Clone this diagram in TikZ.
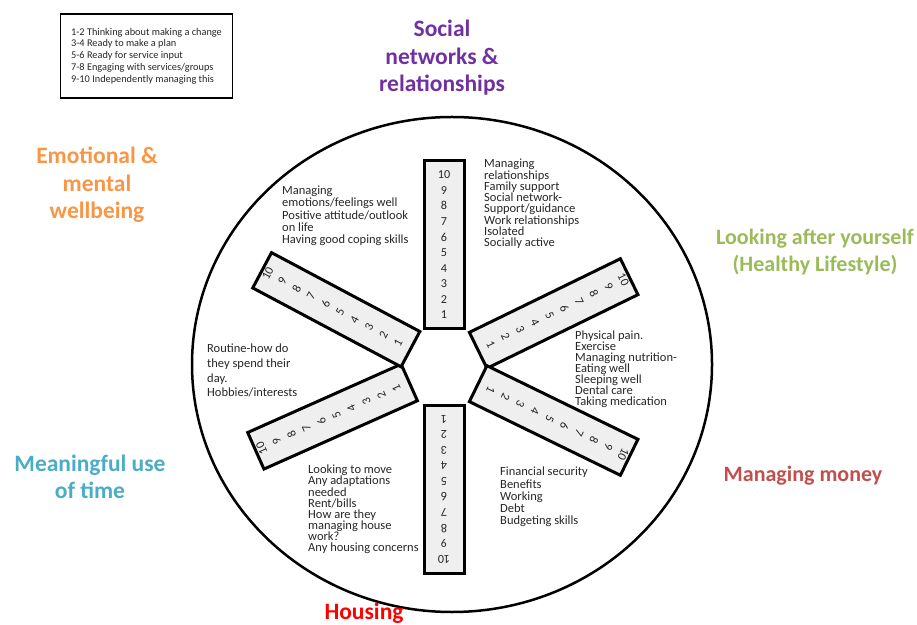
\documentclass[tikz,border=0pt]{standalone}
\usepackage{fontspec}
\setmainfont{Carlito}
\usetikzlibrary{calc,shapes.geometric}
\definecolor{cpurple}{HTML}{7030A0}
\definecolor{corange}{HTML}{F79646}
\definecolor{cgreen}{HTML}{9BBB59}
\definecolor{cmoney}{HTML}{C0504D}
\definecolor{cteal}{HTML}{4BACC6}
\definecolor{chousing}{HTML}{FF0000}
\definecolor{bodytext}{HTML}{262626}
\definecolor{spokefill}{HTML}{EFEFEF}
\begin{document}
\begin{tikzpicture}[x=1pt,y=1pt,
  cat/.style={font=\fontsize{#1}{27.5}\selectfont\bfseries, align=center, inner sep=0},
  cat/.default=23.5,
  body/.style={font=\fontsize{12.5}{#1}\selectfont, align=left, anchor=north west, inner sep=0, text=bodytext},
  spokebox/.style={draw, line width=3pt, fill=spokefill, minimum width=40pt, minimum height=168pt, inner sep=0, outer sep=0},
  digit/.style={font=\fontsize{12.2}{12.2}\selectfont, text=bodytext, inner sep=0},
  legendbox/.style={draw, line width=1.2pt, minimum width=172pt, minimum height=84pt, inner sep=0, align=left, font=\fontsize{10.3}{11.7}\selectfont, text=bodytext}
]
\useasboundingbox (0,0) rectangle (917,624);

% legend
\node[legendbox] (legend) at (146.5,568) {1-2 Thinking about making a change\\3-4 Ready to make a plan\\5-6 Ready for service input\\7-8 Engaging with services/groups\\9-10 Independently managing this};

% wheel outline
\node[draw, line width=2.5pt, ellipse, minimum width=520pt, minimum height=495pt, inner sep=0] (wheel) at (452,259.5) {};

% spokes
\coordinate (C) at (444,257);
\foreach \ang/\nm/\stp in {90/a/15.6,26/b/16.4,-26/c/16.4,270/d/15.6,204/e/16.4,152/f/16.4} {
  \node[spokebox, rotate=\ang-90] (spoke\nm) at ($(C)+(\ang:122)$) {};
  \foreach \k in {1,...,10} {
    \pgfmathsetmacro\rr{52+\stp*(\k-1)}
    \node[digit, rotate=\ang-90] (d\nm\k) at ($(C)+(\ang:\rr)$) {\k};
  }
}

% category labels
\node[cat, text=cpurple] (social) at (442,566) {Social\\networks \&\\relationships};
\node[cat, text=corange] (emotional) at (97,439) {Emotional \&\\mental\\wellbeing};
\node[cat=22, text=cgreen] (looking) at (815,372) {Looking after yourself\\(Healthy Lifestyle)};
\node[cat=22, text=cmoney] (money) at (803,148) {Managing money};
\node[cat, text=cteal] (meaningful) at (90,147) {Meaningful use\\of time};
\node[cat, text=chousing] (housing) at (364,11) {Housing};

% descriptions
\node[body=12.2] (emotext) at (282,438) {Managing\\emotions/feelings well\\Positive attitude/outlook\\on life\\Having good coping skills};
\node[body=11.3] (socialtext) at (484,465) {Managing\\relationships\\Family support\\Social network-\\Support/guidance\\Work relationships\\Isolated\\Socially active};
\node[body=11] (lookingtext) at (575,293.5) {Physical pain.\\Exercise\\Managing nutrition-\\Eating well\\Sleeping well\\Dental care\\Taking medication};
\node[body=12.25] (moneytext) at (500,157) {Financial security\\Benefits\\Working\\Debt\\Budgeting skills};
\node[body=11.1] (housingtext) at (308,159) {Looking to move\\Any adaptations\\needed\\Rent/bills\\How are they\\managing house\\work?\\Any housing concerns};
\node[body=14.7] (timetext) at (207,280) {Routine-how do\\they spend their\\day.\\Hobbies/interests};
\end{tikzpicture}
\end{document}
